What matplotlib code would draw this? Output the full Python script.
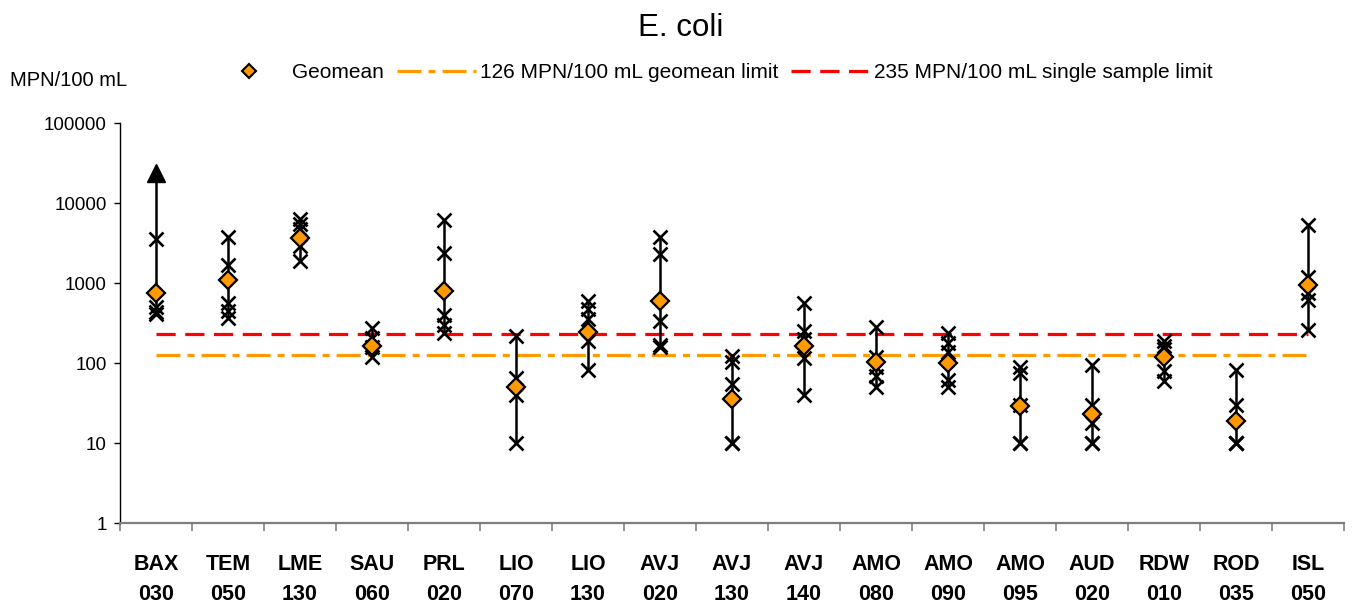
import matplotlib
matplotlib.use("Agg")
import matplotlib.pyplot as plt
from matplotlib.lines import Line2D
from matplotlib.ticker import FixedLocator, NullLocator
import numpy as np

# Monitoring sites (code and number shown on two lines)
sites = ["BAX\n030", "TEM\n050", "LME\n130", "SAU\n060", "PRL\n020", "LIO\n070",
         "LIO\n130", "AVJ\n020", "AVJ\n130", "AVJ\n140", "AMO\n080", "AMO\n090",
         "AMO\n095", "AUD\n020", "RDW\n010", "ROD\n035", "ISL\n050"]

# Individual E. coli results per site (MPN/100 mL)
samples = [
    [24196, 3600, 500, 440, 410],
    [3800, 1700, 560, 450, 370],
    [6300, 5500, 4800, 2900, 1900],
    [280, 210, 160, 120],
    [6100, 2400, 400, 300, 240],
    [220, 65, 40, 10],
    [600, 480, 360, 190, 82],
    [3800, 2300, 340, 170, 160],
    [125, 105, 55, 10, 10],
    [560, 250, 200, 115, 40],
    [285, 120, 90, 70, 50],
    [240, 180, 140, 62, 50],
    [90, 75, 30, 10, 10],
    [95, 30, 18, 10, 10],
    [190, 165, 150, 80, 60],
    [82, 30, 10, 10, 10],
    [5300, 1200, 750, 620, 260],
]

# Geometric mean per site (MPN/100 mL)
geomean = [760, 1100, 3700, 164, 810, 50, 248, 600, 36, 164, 105, 100, 29, 23, 119, 19, 950]

# Regulatory limits and the upper reporting limit of the method
geomean_limit = 126
single_sample_limit = 235
upper_reporting_limit = 24196

y_ticks = [1, 10, 100, 1000, 10000, 100000]
y_tick_labels = ["1", "10", "100", "1000", "10000", "100000"]

plt.rcParams["font.family"] = ["Liberation Sans", "DejaVu Sans"]

ORANGE = "#FF9900"
RED = "#FF0000"

fig = plt.figure(figsize=(13.54, 6.04), dpi=100)
ax = fig.add_axes([120 / 1354, 80.7 / 604, 1224 / 1354, 400 / 604])

x = np.arange(len(sites))

# Limit lines spanning first to last site
ax.plot([x[0], x[-1]], [geomean_limit] * 2, color=ORANGE, lw=2.3,
        dashes=(7.5, 2.2, 2.2, 2.2), zorder=1)
ax.plot([x[0], x[-1]], [single_sample_limit] * 2, color=RED, lw=2.3,
        dashes=(6, 3), zorder=1)

for xi, vals in zip(x, samples):
    vals = np.asarray(vals, dtype=float)
    ax.vlines(xi, vals.min(), vals.max(), color="black", lw=1.8, zorder=2)
    capped = vals >= upper_reporting_limit
    ax.plot(np.full((~capped).sum(), xi), vals[~capped], linestyle="none",
            marker="x", ms=10, mew=1.9, color="black", zorder=3)
    if capped.any():
        ax.plot(np.full(capped.sum(), xi), vals[capped], linestyle="none",
                marker="^", ms=13.5, color="black", zorder=3)

ax.plot(x, geomean, linestyle="none", marker="D", ms=8.8, mfc=ORANGE,
        mec="black", mew=1.6, zorder=4)

ax.set_yscale("log")
ax.set_ylim(1, 100000)
ax.set_xlim(-0.5, len(sites) - 0.5)
ax.yaxis.set_major_locator(FixedLocator(y_ticks))
ax.yaxis.set_minor_locator(NullLocator())
ax.set_yticklabels(y_tick_labels, fontsize=13.5)

ax.set_xticks(x)
ax.set_xticklabels(sites, fontsize=15.5, fontweight="bold", linespacing=1.55)
ax.set_xticks(np.arange(len(sites) + 1) - 0.5, minor=True)
ax.tick_params(axis="x", which="major", length=0, pad=22)
ax.tick_params(axis="x", which="minor", length=5.5, width=1.2, color="#808080",
               direction="out")
ax.tick_params(axis="y", which="major", length=4.5, width=1.0, color="black",
               direction="out", pad=5)

for side in ("top", "right"):
    ax.spines[side].set_visible(False)
ax.spines["left"].set_color("black")
ax.spines["left"].set_linewidth(1.0)
ax.spines["bottom"].set_color("#808080")
ax.spines["bottom"].set_linewidth(1.6)

fig.text(681 / 1354, 1 - 28 / 604, "E. coli", ha="center", va="center", fontsize=22.5)
fig.text(10 / 1354, 1 - 80 / 604, "MPN/100 mL", ha="left", va="center", fontsize=14.5)

handles = [
    Line2D([], [], linestyle="none", marker="D", ms=7.5, mfc=ORANGE, mec="black", mew=1.5),
    Line2D([], [], color=ORANGE, lw=2.3, dashes=(7.5, 2.2, 2.2, 2.2)),
    Line2D([], [], color=RED, lw=2.3, dashes=(6, 3)),
]
labels = ["Geomean", "126 MPN/100 mL geomean limit", "235 MPN/100 mL single sample limit"]
fig.legend(handles, labels, loc="center", bbox_to_anchor=(711 / 1354, 1 - 73 / 604),
           ncol=3, frameon=False, fontsize=15, handlelength=3.8, handletextpad=0.2,
           columnspacing=0.6, borderpad=0)

fig.savefig("out.png", dpi=100)
